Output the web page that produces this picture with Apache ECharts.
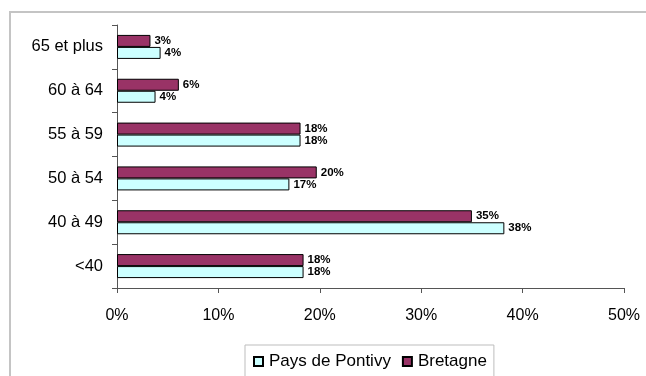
<!DOCTYPE html>
<html>
<head>
<meta charset="utf-8">
<script src="https://cdn.jsdelivr.net/npm/echarts@6/dist/echarts.min.js"></script>
<style>
  html, body { margin: 0; padding: 0; background: #fff; }
  #chart { width: 646px; height: 376px; }
</style>
</head>
<body>
<div id="chart"></div>
<script>
// Age groups, top to bottom
const categories = ['65 et plus', '60 à 64', '55 à 59', '50 à 54', '40 à 49', '<40'];
// Share of each age group (%)
const bretagne = [3.3, 6.1, 18.1, 19.7, 35.0, 18.4];
const paysDePontivy = [4.3, 3.8, 18.1, 17.0, 38.2, 18.4];
const xTicks = [0, 10, 20, 30, 40, 50];

const FONT = '"Liberation Sans", Arial, sans-serif';

const chart = echarts.init(document.getElementById('chart'), null, { renderer: 'canvas' });

const labelStyle = {
  show: true,
  position: 'right',
  distance: 4,
  color: '#000',
  fontFamily: FONT,
  fontWeight: 'bold',
  fontSize: 11.5,
  formatter: p => Math.round(p.value) + '%'
};

chart.setOption({
  animation: false,
  backgroundColor: '#fff',
  textStyle: { fontFamily: FONT },
  graphic: [{
    type: 'rect',
    silent: true,
    shape: { x: 10, y: 12, width: 700, height: 420 },
    style: { fill: 'none', stroke: '#c4c4c4', lineWidth: 2 }
  }],
  grid: { left: 117, right: 22, top: 25, bottom: 88, containLabel: false },
  legend: {
    data: ['Pays de Pontivy', 'Bretagne'],
    left: 245,
    top: 345,
    padding: [8, 7, 8, 8],
    itemGap: 11,
    itemWidth: 9,
    itemHeight: 9,
    borderColor: '#bdbdbd',
    borderWidth: 1,
    icon: 'rect',
    textStyle: { fontFamily: FONT, fontSize: 17, color: '#000', padding: [0, 0, 0, 1] }
  },
  xAxis: {
    type: 'value',
    min: xTicks[0],
    max: xTicks[xTicks.length - 1],
    interval: 10,
    splitLine: { show: false },
    axisLine: { show: true, lineStyle: { color: '#555', width: 1 } },
    axisTick: { show: true, length: 5, lineStyle: { color: '#555' } },
    axisLabel: { margin: 20, fontSize: 16, color: '#000', fontFamily: FONT, formatter: v => v + '%' }
  },
  yAxis: {
    type: 'category',
    data: categories,
    inverse: true,
    axisLine: { show: true, lineStyle: { color: '#555', width: 1 } },
    axisTick: { show: true, length: 5, lineStyle: { color: '#555' } },
    axisLabel: { margin: 14, fontSize: 16.5, color: '#000', fontFamily: FONT }
  },
  series: [
    {
      name: 'Bretagne',
      type: 'bar',
      data: bretagne,
      barWidth: 12,
      barGap: '0%',
      itemStyle: { color: '#993366', borderColor: '#000', borderWidth: 1 },
      label: labelStyle
    },
    {
      name: 'Pays de Pontivy',
      type: 'bar',
      data: paysDePontivy,
      barWidth: 12,
      barGap: '0%',
      itemStyle: { color: '#ccffff', borderColor: '#000', borderWidth: 1 },
      label: labelStyle
    }
  ]
});
</script>
</body>
</html>
